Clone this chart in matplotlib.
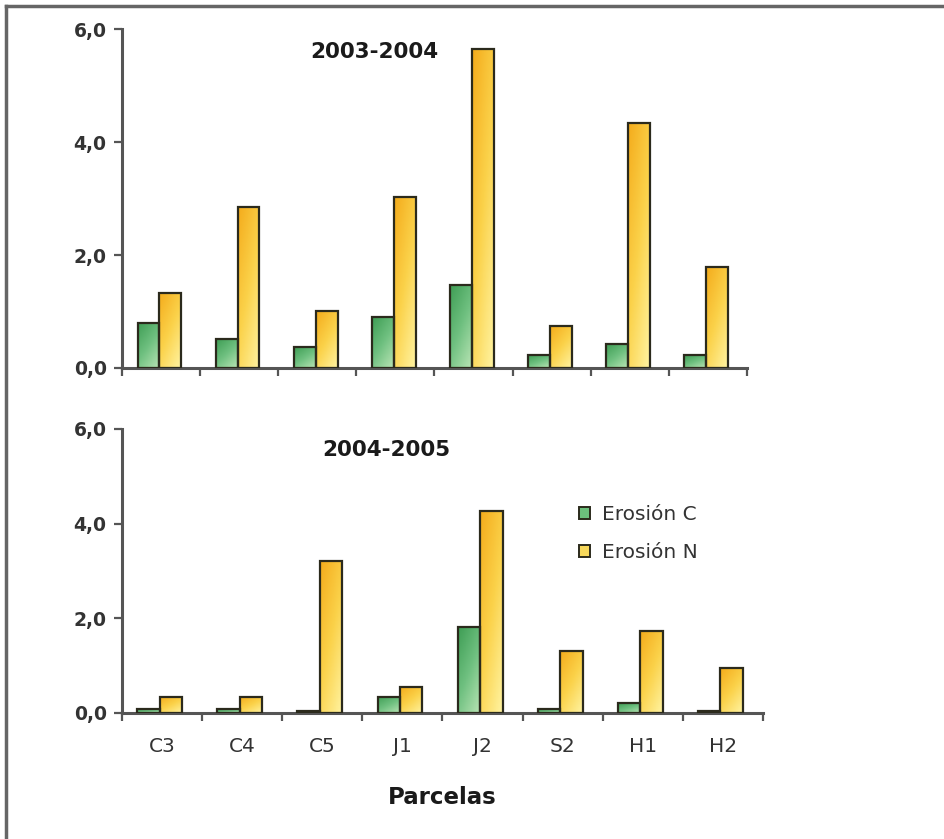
import numpy as np
import matplotlib
matplotlib.use("Agg")
import matplotlib.pyplot as plt
from matplotlib.lines import Line2D
from matplotlib.patches import Patch
from matplotlib.colors import LinearSegmentedColormap

# data
parcelas = ["C3", "C4", "C5", "J1", "J2", "S2", "H1", "H2"]
erosion_c_0304 = [0.80, 0.51, 0.37, 0.90, 1.47, 0.23, 0.42, 0.23]
erosion_n_0304 = [1.33, 2.85, 1.00, 3.03, 5.65, 0.74, 4.34, 1.79]
erosion_c_0405 = [0.08, 0.08, 0.04, 0.34, 1.81, 0.08, 0.21, 0.04]
erosion_n_0405 = [0.34, 0.34, 3.22, 0.55, 4.27, 1.31, 1.73, 0.95]
yticks = [0, 2, 4, 6]
ytick_labels = ["0,0", "2,0", "4,0", "6,0"]

plt.rcParams['font.family'] = ['DejaVu Sans']

green_cm = LinearSegmentedColormap.from_list("g", ["#3f9e55", "#6fc080", "#b8e4b4"])
yellow_cm = LinearSegmentedColormap.from_list("y", ["#f4ac1c", "#fbd24a", "#fff3a0"])
edge = "#2b2a1c"


def gradient_bars(ax, x, h, w, cmap):
    bars = ax.bar(x, h, w, facecolor="none", edgecolor=edge, linewidth=1.6, zorder=3)
    for b in bars:
        x0, y0 = b.get_x(), b.get_y()
        x1, y1 = x0 + b.get_width(), y0 + b.get_height()
        # diagonal gradient: dark at top-left, light at bottom-right
        gx, gy = np.meshgrid(np.linspace(0, 1, 20), np.linspace(0, 1, 40))
        grad = 0.6 * gy + 0.4 * gx
        im = ax.imshow(grad, cmap=cmap, extent=(x0, x1, y0, y1), origin="upper",
                       aspect="auto", zorder=2, vmin=0, vmax=1)
        im.set_clip_path(b)
    return bars


def style_axis(ax, xlabels):
    n = len(parcelas)
    ax.set_xlim(0, n)
    ax.set_ylim(0, 6)
    ax.set_yticks(yticks)
    ax.set_yticklabels(ytick_labels, fontsize=13.5, fontweight="bold", color="#333333")
    ax.set_xticks(np.arange(0, n + 1))
    ax.set_xticks(np.arange(n) + 0.5, minor=True)
    ax.set_xticklabels([])
    if xlabels:
        ax.set_xticklabels(parcelas, minor=True, fontsize=14.5, color="#333333")
    ax.tick_params(axis="x", which="major", length=6, width=1.6, color="#555555", direction="out")
    ax.tick_params(axis="x", which="minor", length=0, pad=17)
    ax.tick_params(axis="y", length=6, width=1.6, color="#555555", pad=5)
    for s in ["top", "right"]:
        ax.spines[s].set_visible(False)
    for s in ["left", "bottom"]:
        ax.spines[s].set_color("#555555")
        ax.spines[s].set_linewidth(2.2)
    ax.set_autoscale_on(False)


fig = plt.figure(figsize=(9.44, 8.39), dpi=100)
x = np.arange(len(parcelas)) + 0.5
w = 0.28

ax1 = fig.add_axes([0.1292, 0.5614, 0.662, 0.404])
style_axis(ax1, False)
gradient_bars(ax1, x - w / 2 - 0.02, erosion_c_0304, w, green_cm)
gradient_bars(ax1, x + w / 2 - 0.02, erosion_n_0304, w, yellow_cm)
ax1.text(3.23, 5.6, "2003-2004", fontsize=15.5, fontweight="bold", ha="center", va="center", color="#1a1a1a")

ax2 = fig.add_axes([0.1292, 0.1502, 0.679, 0.3385])
style_axis(ax2, True)
gradient_bars(ax2, x - w / 2 - 0.03, erosion_c_0405, w, green_cm)
gradient_bars(ax2, x + w / 2 - 0.03, erosion_n_0405, w, yellow_cm)
ax2.text(3.3, 5.55, "2004-2005", fontsize=15.5, fontweight="bold", ha="center", va="center", color="#1a1a1a")
ax2.set_xlabel("Parcelas", fontsize=16.5, fontweight="bold", color="#1a1a1a", labelpad=22)

handles = [Patch(facecolor="#6cc07c", edgecolor=edge, linewidth=1.4, label="Erosión C"),
           Patch(facecolor="#f7d85a", edgecolor=edge, linewidth=1.4, label="Erosión N")]
fig.legend(handles=handles, loc="upper left", bbox_to_anchor=(0.594, 0.42), frameon=False,
           fontsize=14.5, handlelength=0.55, handleheight=0.55, handletextpad=0.6,
           labelspacing=0.95, labelcolor="#333333")

# frame lines at top and left
fig.add_artist(Line2D([5.5 / 944, 1], [1 - 5.5 / 839, 1 - 5.5 / 839], color="#666666", linewidth=2.5))
fig.add_artist(Line2D([5.5 / 944, 5.5 / 944], [0, 1 - 5.5 / 839], color="#666666", linewidth=2.5))

fig.savefig("out.png", dpi=100)
